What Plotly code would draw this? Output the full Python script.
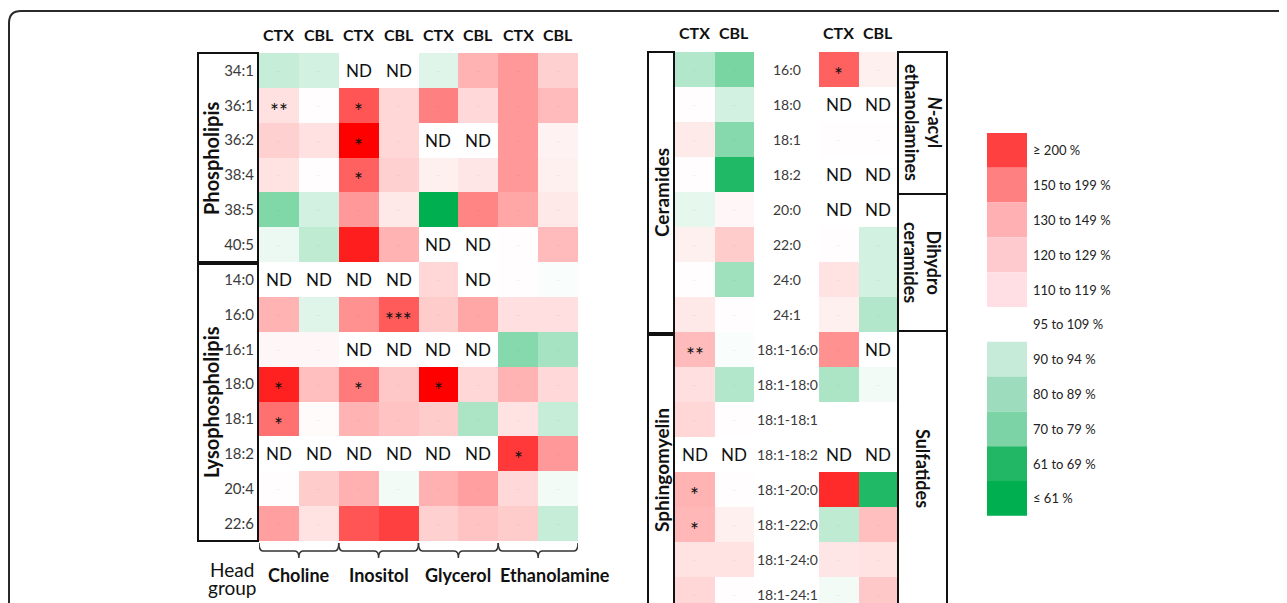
import plotly.graph_objects as go

# The page body has an 8 px margin, so the figure is drawn 8 px in from the top-left corner.
OFF = 8
W, H = 1287 - OFF, 603 - OFF


def px(x):
    return (x - OFF) / W


def py(y):
    return 1 - (y - OFF) / H


# ---------------- data (percent of control; "ND" = not detected, None = blank) ----------------
ROWS_LEFT = ["34:1", "36:1", "36:2", "38:4", "38:5", "40:5",
             "14:0", "16:0", "16:1", "18:0", "18:1", "18:2", "20:4", "22:6"]
HEAD_GROUPS = ["Choline", "Inositol", "Glycerol", "Ethanolamine"]
REGIONS = ["CTX", "CBL"]

CHOLINE_CTX = [91, 114, 122, 113, 80, 97, "ND", 136, 104, 205, 167, "ND", 101, 145]
CHOLINE_CBL = [93, 101, 114, 101, 93, 90, "ND", 95, 104, 130, 102, "ND", 124, 113]
INOSITOL_CTX = ["ND", 180, 220, 175, 148, 206, "ND", 152, "ND", 162, 136, "ND", 137, 180]
INOSITOL_CBL = ["ND", 119, 119, 122, 111, 136, "ND", 177, "ND", 126, 128, "ND", 98, 190]
GLYCEROL_CTX = [95, 160, "ND", 107, 55, "ND", 119, 124, "ND", 220, 124, "ND", 137, 122]
GLYCEROL_CBL = [136, 118, "ND", 112, 158, "ND", "ND", 142, "ND", 119, 87, "ND", 145, 128]
ETHANOLAMINE_CTX = [148, 148, 148, 148, 142, 101, 101, 115, 81, 136, 113, 193, 118, 124]
ETHANOLAMINE_CBL = [122, 132, 106, 107, 111, 132, 99, 115, 86, 118, 91, 148, 98, 91]

CHOLINE_CTX_SIG = ["", "**", "", "", "", "", "", "", "", "*", "*", "", "", ""]
CHOLINE_CBL_SIG = [""] * 14
INOSITOL_CTX_SIG = ["", "*", "*", "*", "", "", "", "", "", "*", "", "", "", ""]
INOSITOL_CBL_SIG = ["", "", "", "", "", "", "", "***", "", "", "", "", "", ""]
GLYCEROL_CTX_SIG = ["", "", "", "", "", "", "", "", "", "*", "", "", "", ""]
GLYCEROL_CBL_SIG = [""] * 14
ETHANOLAMINE_CTX_SIG = ["", "", "", "", "", "", "", "", "", "", "", "*", "", ""]
ETHANOLAMINE_CBL_SIG = [""] * 14

ROWS_RIGHT = ["16:0", "18:0", "18:1", "18:2", "20:0", "22:0", "24:0", "24:1",
              "18:1-16:0", "18:1-18:0", "18:1-18:1", "18:1-18:2",
              "18:1-20:0", "18:1-22:0", "18:1-24:0", "18:1-24:1"]
CER_SM_CTX = [88, 101, 110, 101, 96, 107, 101, 111, 132, 115, 119, "ND", 136, 134, 113, 119]
CER_SM_CBL = [79, 93, 81, 65, 104, 124, 85, 101, 99, 88, 101, "ND", 101, 107, 113, 101]
NAE_SUL_CTX = [175, "ND", 101, "ND", "ND", 101, 113, 107, 152, 87, None, "ND", 200, 90, 112, 98]
NAE_SUL_CBL = [107, "ND", 101, "ND", "ND", 93, 93, 88, "ND", 98, None, "ND", 65, 130, 113, 126]

CER_SM_CTX_SIG = ["", "", "", "", "", "", "", "", "**", "", "", "", "*", "*", "", ""]
CER_SM_CBL_SIG = [""] * 16
NAE_SUL_CTX_SIG = ["*", "", "", "", "", "", "", "", "", "", "", "", "", "", "", ""]
NAE_SUL_CBL_SIG = [""] * 16

LEGEND_LABELS = ["≥ 200 %", "150 to 199 %", "130 to 149 %", "120 to 129 %", "110 to 119 %",
                 "95 to 109 %", "90 to 94 %", "80 to 89 %", "70 to 79 %", "61 to 69 %", "≤ 61 %"]
LEGEND_COLORS = ["#FF4040", "#FF8080", "#FFB0B3", "#FFCACD", "#FFDFE3", "#FFFFFF",
                 "#C6EBD9", "#9DDDBD", "#7BD3A6", "#21B764", "#00B050"]

# ---------------- styling ----------------
FONT = "Lato"
COLORSCALE = [[0.0, "#00B050"], [0.25, "#FFFFFF"], [1.0, "#FF0000"]]
ZMIN, ZMAX = 60, 220
LABEL_COLOR = "#3a3a3a"


def zval(v):
    return v if isinstance(v, (int, float)) else None


fig = go.Figure()
annotations = []
shapes = []


def ann(**kw):
    kw.setdefault("showarrow", False)
    kw.setdefault("xanchor", "center")
    kw.setdefault("yanchor", "middle")
    annotations.append(kw)


left_cols = [CHOLINE_CTX, CHOLINE_CBL, INOSITOL_CTX, INOSITOL_CBL,
             GLYCEROL_CTX, GLYCEROL_CBL, ETHANOLAMINE_CTX, ETHANOLAMINE_CBL]
left_sigs = [CHOLINE_CTX_SIG, CHOLINE_CBL_SIG, INOSITOL_CTX_SIG, INOSITOL_CBL_SIG,
             GLYCEROL_CTX_SIG, GLYCEROL_CBL_SIG, ETHANOLAMINE_CTX_SIG, ETHANOLAMINE_CBL_SIG]
left_x = list(range(len(left_cols)))
z_left = [[zval(col[i]) for col in left_cols] for i in range(len(ROWS_LEFT))]

fig.add_trace(go.Heatmap(z=z_left, x=left_x, y=ROWS_LEFT, colorscale=COLORSCALE,
                         zmin=ZMIN, zmax=ZMAX, showscale=False, hoverongaps=False,
                         xaxis="x", yaxis="y"))

right_a = [CER_SM_CTX, CER_SM_CBL]
right_b = [NAE_SUL_CTX, NAE_SUL_CBL]
sig_a = [CER_SM_CTX_SIG, CER_SM_CBL_SIG]
sig_b = [NAE_SUL_CTX_SIG, NAE_SUL_CBL_SIG]
for cols, xa in ((right_a, "x2"), (right_b, "x3")):
    z = [[zval(col[i]) for col in cols] for i in range(len(ROWS_RIGHT))]
    fig.add_trace(go.Heatmap(z=z, x=list(range(len(cols))), y=ROWS_RIGHT, colorscale=COLORSCALE,
                             zmin=ZMIN, zmax=ZMAX, showscale=False, hoverongaps=False,
                             xaxis=xa, yaxis="y2"))


def cell_text(cols, sigs, rows, xref, yref):
    for ci, (col, sig) in enumerate(zip(cols, sigs)):
        for ri, row in enumerate(rows):
            v = col[ri]
            if v == "ND":
                ann(x=ci, y=row, xref=xref, yref=yref, text="ND",
                    font=dict(family=FONT, size=17, color="#111"))
            elif v is None:
                continue
            elif sig[ri]:
                ann(x=ci, y=row, xref=xref, yref=yref, text=sig[ri], yshift=-5,
                    font=dict(family=FONT, size=21, color="#111"))
            else:
                ann(x=ci, y=row, xref=xref, yref=yref, text="–",
                    font=dict(family=FONT, size=9, color="rgba(90,90,90,0.12)"))


cell_text(left_cols, left_sigs, ROWS_LEFT, "x", "y")
cell_text(right_a, sig_a, ROWS_RIGHT, "x2", "y2")
cell_text(right_b, sig_b, ROWS_RIGHT, "x3", "y2")

# column headers
hdr_font = dict(family=FONT, size=16, color="#111")
for i in left_x:
    ann(x=i, y=py(35), xref="x", yref="paper", text="<b>%s</b>" % REGIONS[i % 2], font=hdr_font)
for xa in ("x2", "x3"):
    for i, r in enumerate(REGIONS):
        ann(x=i, y=py(33), xref=xa, yref="paper", text="<b>%s</b>" % r, font=hdr_font)

# middle row labels of right panel
for row in ROWS_RIGHT:
    ann(x=px(787), y=row, xref="paper", yref="y2", text=row,
        font=dict(family=FONT, size=14, color=LABEL_COLOR))

# head group brackets and labels
for gi, g in enumerate(HEAD_GROUPS):
    xl, xm, xr = 2 * gi - 0.5, 2 * gi + 0.5, 2 * gi + 1.5
    y0, y1, y2 = py(543), py(551), py(558)
    d = 0.1
    path = (f"M {xl},{y0} Q {xl},{y1} {xl + d},{y1} L {xm - d},{y1} Q {xm},{y1} {xm},{y2} "
            f"Q {xm},{y1} {xm + d},{y1} L {xr - d},{y1} Q {xr},{y1} {xr},{y0}")
    shapes.append(dict(type="path", xref="x", yref="paper", path=path,
                       line=dict(color="#333", width=1.5)))
    ann(x=xm, y=py(575), xref="x", yref="paper", text="<b>%s</b>" % g,
        xshift=17 if gi == len(HEAD_GROUPS) - 1 else 0,
        font=dict(family=FONT, size=18, color="#111"))
ann(x=px(232), y=py(569), xref="paper", yref="paper", text="Head",
    font=dict(family=FONT, size=19, color="#111"))
ann(x=px(232), y=py(587), xref="paper", yref="paper", text="group",
    font=dict(family=FONT, size=19, color="#111"))

# group boxes
box_line = dict(color="#111", width=2)


def box(x0, y0, x1, y1):
    shapes.append(dict(type="rect", xref="paper", yref="paper", x0=px(x0), x1=px(x1),
                       y0=py(y1), y1=py(y0), line=box_line, fillcolor="rgba(0,0,0,0)"))


box(198, 53, 258, 262)
box(198, 264, 258, 541)
box(648, 52, 674, 333)
box(648, 335, 674, 640)
box(898, 52, 947, 194)
box(898, 194, 947, 331)
box(898, 331, 947, 640)

for text, x, y, ang, sz in [("<b>Phospholipis</b>", 211, 158, -90, 20),
                            ("<b>Lysophospholipis</b>", 211, 402, -90, 20),
                            ("<b>Ceramides</b>", 661, 193, -90, 19),
                            ("<b>Sphingomyelin</b>", 661, 470, -90, 19),
                            ("<b><i>N</i>-acyl<br>ethanolamines</b>", 923, 122, 90, 18),
                            ("<b>Dihydro<br>ceramides</b>", 923, 262, 90, 18),
                            ("<b>Sulfatides</b>", 923, 468, 90, 18)]:
    ann(x=px(x), y=py(y), xref="paper", yref="paper", text=text, textangle=ang,
        font=dict(family=FONT, size=sz, color="#111"))

# legend
lh = 34.8
for i, (lab, colr) in enumerate(zip(LEGEND_LABELS, LEGEND_COLORS)):
    t = 133 + i * lh
    shapes.append(dict(type="rect", xref="paper", yref="paper", x0=px(987), x1=px(1027),
                       y0=py(t + lh), y1=py(t), line=dict(width=0), fillcolor=colr))
    ann(x=px(1031), y=py(t + lh / 2), xref="paper", yref="paper", text=lab, xanchor="left",
        font=dict(family=FONT, size=13, color="#222"))

# outer frame with rounded top-left corner
r = 12
fx, fy = 9, 11
frame = (f"M {px(fx)},{py(650)} L {px(fx)},{py(fy + r)} Q {px(fx)},{py(fy)} {px(fx + r)},{py(fy)} "
         f"L {px(1300)},{py(fy)}")
shapes.append(dict(type="path", xref="paper", yref="paper", path=frame,
                   line=dict(color="#2a2a2a", width=2)))

row_h = 35.0
vis_rows = (603 - 52) / row_h

fig.update_layout(
    width=W, height=H, autosize=False,
    margin=dict(l=0, r=0, t=0, b=0),
    paper_bgcolor="white", plot_bgcolor="white",
    showlegend=False,
    xaxis=dict(domain=[px(259), px(578)], range=[-0.5, 7.5], showticklabels=False, showgrid=False,
               zeroline=False, ticks="", anchor="y"),
    yaxis=dict(domain=[py(541), py(53)], autorange="reversed", showgrid=False, zeroline=False,
               ticks="", tickfont=dict(family=FONT, size=15, color=LABEL_COLOR), anchor="x",
               ticklabelstandoff=4),
    xaxis2=dict(domain=[px(675), px(754)], range=[-0.5, 1.5], showticklabels=False, showgrid=False,
                zeroline=False, ticks="", anchor="y2"),
    xaxis3=dict(domain=[px(819), px(898)], range=[-0.5, 1.5], showticklabels=False, showgrid=False,
                zeroline=False, ticks="", anchor="y2"),
    yaxis2=dict(domain=[0, py(52)], range=[vis_rows - 0.5, -0.5], showticklabels=False,
                showgrid=False, zeroline=False, ticks="", anchor="x2"),
    annotations=annotations,
    shapes=shapes,
)

fig.write_html("out.html")
